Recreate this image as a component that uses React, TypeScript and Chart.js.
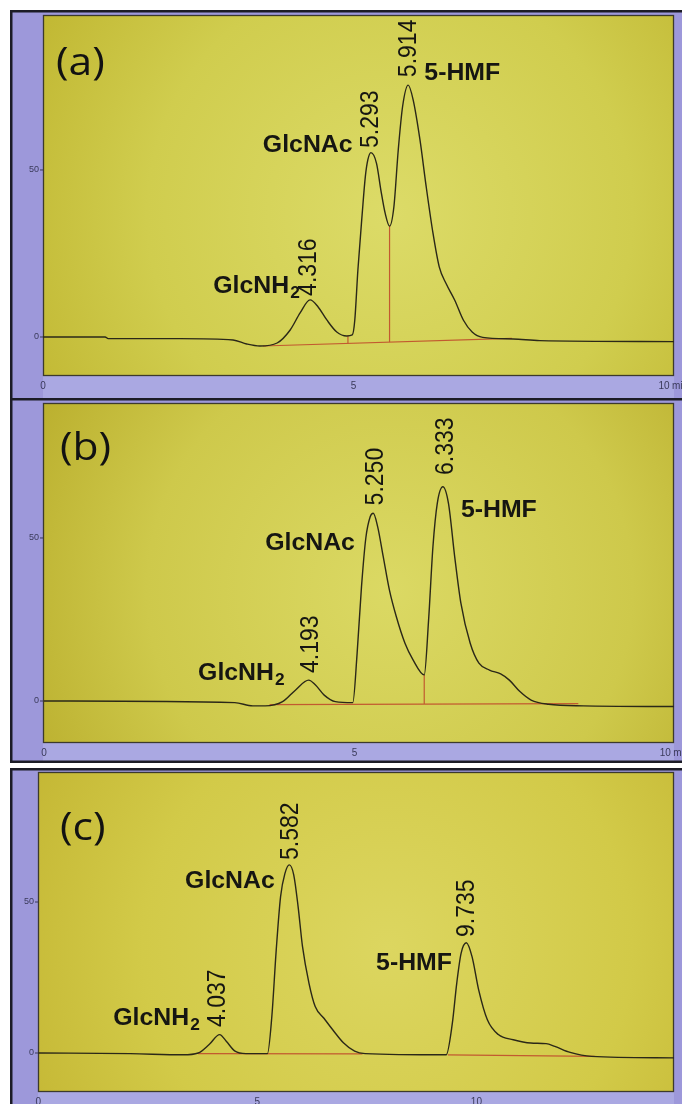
import React, { useEffect, useRef } from "react";
import { Chart, registerables } from "chart.js";

Chart.register(...registerables);

// ---------- DATA ----------
// Panel (a)
const timesA = [0, 1.0, 1.05, 2.2, 3.06, 3.28, 3.49, 3.77, 3.98, 4.14, 4.3, 4.43, 4.57, 4.73, 4.89, 4.98, 5.02, 5.07, 5.14, 5.19, 5.23, 5.28, 5.37, 5.44, 5.51, 5.58, 5.65, 5.72, 5.79, 5.88, 5.96, 6.07, 6.17, 6.28, 6.38, 6.49, 6.63, 6.77, 6.91, 7.08, 7.57, 8.0, 10.16];
const signalA = [0, 0, -0.5, -0.5, -0.9, -2.1, -2.7, -1.8, 2.1, 7.2, 11.1, 9.0, 5.1, 1.5, 0.3, 0.6, 5, 20, 37, 48, 53, 55.2, 52, 44, 37, 33.2, 39, 56, 69, 75.4, 71, 59, 45, 31, 21, 16, 11, 5, 1.5, -0.1, -0.6, -1.1, -1.4];
const baselineTimesA = [3.54, 7.55];
const baselineValuesA = [-2.7, -0.4];
const dropTimesA = [4.91, 5.58];
const dropTopsA = [0.3, 33.2];
const retentionA = ["4.316", "5.293", "5.914"];

// Panel (b)
const timesB = [0, 3.07, 3.36, 3.56, 3.84, 4.05, 4.26, 4.37, 4.51, 4.69, 4.97, 5.04, 5.11, 5.18, 5.25, 5.3, 5.37, 5.46, 5.56, 5.67, 5.81, 5.94, 6.12, 6.19, 6.26, 6.33, 6.42, 6.51, 6.61, 6.71, 6.86, 7.0, 7.17, 7.35, 7.49, 7.66, 7.84, 8.12, 8.68, 10.14];
const signalB = [0, -0.5, -1.5, -1.5, -0.2, 3.4, 6.4, 4.9, 1.8, -0.2, -0.5, 14.7, 35, 50, 56.5, 57.6, 53.5, 44.3, 34, 25.9, 17.7, 12.6, 8, 24.8, 47.3, 60.6, 65.7, 60.6, 44.3, 30, 17.7, 11.6, 9.5, 8.3, 6.4, 2.9, 0.3, -1, -1.5, -1.7];
const baselineTimesB = [3.63, 8.6];
const baselineValuesB = [-1.1, -0.8];
const dropTimesB = [6.12];
const dropTopsB = [8];
const retentionB = ["4.193", "5.250", "6.333"];

// Panel (c)
const timesC = [0, 2.1, 3.3, 3.65, 3.9, 4.14, 4.29, 4.49, 4.74, 5.23, 5.33, 5.43, 5.53, 5.63, 5.73, 5.83, 5.93, 6.03, 6.18, 6.32, 6.52, 6.72, 6.97, 7.22, 7.46, 9.31, 9.45, 9.55, 9.65, 9.77, 9.9, 10.05, 10.25, 10.5, 10.84, 11.24, 11.59, 11.79, 12.14, 12.63, 14.51];
const signalC = [0, -0.2, -0.6, 0, 2.8, 6.1, 3.9, 0.6, -0.2, -0.2, 12, 34, 51.8, 59.5, 62.3, 59, 48.5, 35.3, 23, 15.4, 11.5, 7.7, 3.3, 0.6, -0.2, -0.6, 9.8, 23, 33, 36.5, 31.9, 21, 11, 6.1, 4.4, 3.3, 3.1, 2.2, 0.2, -1.1, -1.6];
const baselineTimesC1 = [3.65, 7.4];
const baselineValuesC1 = [-0.2, -0.3];
const baselineTimesC2 = [9.35, 12.7];
const baselineValuesC2 = [-0.6, -1.1];
const retentionC = ["4.037", "5.582", "9.735"];

const compoundNames = ["GlcNH", "GlcNAc", "5-HMF"]; // first one gets subscript "2"
const yTickValues = [0, 50];
const xTicksAB = [0, 5, 10];
const xTicksC = [0, 5, 10];

// ---------- HELPERS ----------
type Pt = { x: number; y: number };
const zip = (xs: number[], ys: number[]): Pt[] => xs.map((x, i) => ({ x, y: ys[i] }));
const lerp = (xs: number[], ys: number[], t: number) =>
  ys[0] + ((t - xs[0]) * (ys[1] - ys[0])) / (xs[1] - xs[0]);

interface PanelSpec {
  letter: string;
  top: number;
  height: number;
  frameTop: number;
  frameBottom: number;
  padding: { left: number; top: number; right: number; bottom: number };
  xMin: number;
  xMax: number;
  yMin: number;
  yMax: number;
  curve: Pt[];
  red: Pt[][];
  retention: string[];
  retentionAt: [number, number][];
  compoundAt: [number, number][];
  xTicks: number[];
  xUnit: boolean;
  letterPos: [number, number];
  grad: [string, string, string];
}

const dropLines = (times: number[], tops: number[], bt: number[], bv: number[]): Pt[][] =>
  times.map((t, i) => [
    { x: t, y: lerp(bt, bv, t) },
    { x: t, y: tops[i] },
  ]);

const panels: PanelSpec[] = [
  {
    letter: "(a)",
    top: 0,
    height: 401,
    frameTop: 10,
    frameBottom: 401,
    padding: { left: 43, top: 15, right: 8, bottom: 25 },
    xMin: 0,
    xMax: 10.16,
    yMin: -11.68,
    yMax: 96.4,
    curve: zip(timesA, signalA),
    red: [zip(baselineTimesA, baselineValuesA), ...dropLines(dropTimesA, dropTopsA, baselineTimesA, baselineValuesA)],
    retention: retentionA,
    retentionAt: [[4.27, 12.3], [5.27, 56.6], [5.88, 77.8]],
    compoundAt: [[2.74, 13.2], [3.54, 55.4], [6.14, 77]],
    xTicks: xTicksAB,
    xUnit: true,
    letterPos: [56, 75],
    grad: ["#dcdb68", "#d0cd4e", "#bdb22c"],
  },
  {
    letter: "(b)",
    top: 398,
    height: 366,
    frameTop: 0,
    frameBottom: 365,
    padding: { left: 43, top: 5, right: 8, bottom: 21 },
    xMin: -0.016,
    xMax: 10.14,
    yMin: -12.88,
    yMax: 91.4,
    curve: zip(timesB, signalB),
    red: [zip(baselineTimesB, baselineValuesB), ...dropLines(dropTimesB, dropTopsB, baselineTimesB, baselineValuesB)],
    retention: retentionB,
    retentionAt: [[4.28, 8.6], [5.33, 60], [6.46, 69.3]],
    compoundAt: [[2.48, 6.4], [3.56, 46.3], [6.71, 56.4]],
    xTicks: xTicksAB,
    xUnit: true,
    letterPos: [60, 62],
    grad: ["#dbd964", "#cec94b", "#b5a826"],
  },
  {
    letter: "(c)",
    top: 767,
    height: 337,
    frameTop: 1,
    frameBottom: 360,
    padding: { left: 38, top: 5, right: 8, bottom: 12 },
    xMin: -0.007,
    xMax: 14.51,
    yMin: -12.91,
    yMax: 93.05,
    curve: zip(timesC, signalC),
    red: [zip(baselineTimesC1, baselineValuesC1), zip(baselineTimesC2, baselineValuesC2)],
    retention: retentionC,
    retentionAt: [[4.08, 8.6], [5.75, 63.9], [9.76, 38.4]],
    compoundAt: [[1.71, 9.3], [3.35, 54.6], [7.71, 27.5]],
    xTicks: xTicksC,
    xUnit: false,
    letterPos: [60, 73],
    grad: ["#dcd660", "#d2ca48", "#c0b12e"],
  },
];

const W = 682;

function makePlugin(spec: PanelSpec) {
  return {
    id: "hplcFrame",
    beforeDraw(chart: any) {
      const ctx: CanvasRenderingContext2D = chart.ctx;
      const { left, top, right, bottom } = chart.chartArea;
      ctx.save();
      // lavender instrument frame
      const fh = spec.frameBottom - spec.frameTop;
      ctx.fillStyle = "#9d98da";
      ctx.fillRect(10, spec.frameTop, W - 10, fh);
      ctx.fillStyle = "#aaa8e2";
      ctx.fillRect(left, bottom, right - left, spec.frameBottom - bottom);
      ctx.strokeStyle = "#1c1c26";
      ctx.lineWidth = 2.5;
      ctx.strokeRect(11.25, spec.frameTop + 1.25, W, fh - 2.5);
      // yellow plot area
      const cx = left + (right - left) * 0.55;
      const cy = top + (bottom - top) * 0.55;
      const g = ctx.createRadialGradient(cx, cy, 0, cx, cy, (right - left) * 0.7);
      g.addColorStop(0, spec.grad[0]);
      g.addColorStop(0.55, spec.grad[1]);
      g.addColorStop(1, spec.grad[2]);
      ctx.fillStyle = g;
      ctx.fillRect(left, top, right - left, bottom - top);
      ctx.strokeStyle = "#3c3a2c";
      ctx.lineWidth = 1.3;
      ctx.strokeRect(left + 0.5, top + 0.5, right - left - 1, bottom - top - 1);
      // y ticks
      const ys = chart.scales.y;
      const xs = chart.scales.x;
      ctx.fillStyle = "#3a3a5a";
      ctx.font = '9px "Liberation Sans", Arial, sans-serif';
      ctx.textAlign = "right";
      ctx.textBaseline = "middle";
      yTickValues.forEach((v) => {
        const py = ys.getPixelForValue(v);
        ctx.fillText(String(v), left - 4, py);
        ctx.beginPath();
        ctx.moveTo(left - 3, py);
        ctx.lineTo(left, py);
        ctx.strokeStyle = "#3a3a5a";
        ctx.lineWidth = 1;
        ctx.stroke();
      });
      // x ticks
      ctx.textAlign = "center";
      ctx.textBaseline = "top";
      ctx.font = '10px "Liberation Sans", Arial, sans-serif';
      spec.xTicks.forEach((t, i) => {
        const px = xs.getPixelForValue(t);
        ctx.fillText(String(t), px, bottom + 5);
        if (spec.xUnit && i === spec.xTicks.length - 1) {
          ctx.textAlign = "left";
          ctx.fillText("min", px + 8, bottom + 5);
          ctx.textAlign = "center";
        }
      });
      ctx.restore();
    },
    afterDatasetsDraw(chart: any) {
      const ctx: CanvasRenderingContext2D = chart.ctx;
      const xs = chart.scales.x;
      const ys = chart.scales.y;
      ctx.save();
      ctx.fillStyle = "#161612";
      // retention times, rotated
      ctx.font = '23px "Liberation Sans", Arial, sans-serif';
      ctx.textAlign = "left";
      ctx.textBaseline = "middle";
      spec.retention.forEach((txt, i) => {
        const [t, v] = spec.retentionAt[i];
        ctx.save();
        ctx.translate(xs.getPixelForValue(t), ys.getPixelForValue(v));
        ctx.rotate(-Math.PI / 2);
        ctx.scale(1, 1.1);
        ctx.fillText(txt, 0, 1);
        ctx.restore();
      });
      // compound names
      ctx.textBaseline = "alphabetic";
      compoundNames.forEach((name, i) => {
        const [t, v] = spec.compoundAt[i];
        ctx.save();
        ctx.translate(xs.getPixelForValue(t), ys.getPixelForValue(v));
        ctx.scale(1.08, 1);
        ctx.font = 'bold 23px "Liberation Sans", Arial, sans-serif';
        ctx.fillText(name, 0, 0);
        if (i === 0) {
          const w = ctx.measureText(name).width;
          ctx.font = 'bold 16px "Liberation Sans", Arial, sans-serif';
          ctx.fillText("2", w + 1, 5);
        }
        ctx.restore();
      });
      // panel letter
      ctx.save();
      ctx.translate(spec.letterPos[0], spec.letterPos[1]);
      ctx.scale(1.12, 1);
      ctx.font = '38px "Open Sans", "Noto Sans", sans-serif';
      ctx.fillStyle = "#121212";
      ctx.fillText(spec.letter, 0, 0);
      ctx.restore();
      ctx.restore();
    },
  };
}

function Panel({ spec }: { spec: PanelSpec }) {
  const ref = useRef<HTMLCanvasElement | null>(null);
  useEffect(() => {
    if (!ref.current) return;
    const datasets: any[] = [
      {
        data: spec.curve,
        borderColor: "#2b2818",
        borderWidth: 1.4,
        pointRadius: 0,
        cubicInterpolationMode: "monotone",
        fill: false,
        order: 1,
      },
      ...spec.red.map((seg) => ({
        data: seg,
        borderColor: "#c25a30",
        borderWidth: 1.2,
        pointRadius: 0,
        tension: 0,
        fill: false,
        order: 2,
      })),
    ];
    const chart = new Chart(ref.current, {
      type: "line",
      data: { datasets },
      options: {
        animation: false,
        responsive: false,
        devicePixelRatio: 1,
        parsing: false as any,
        layout: { padding: spec.padding },
        plugins: { legend: { display: false }, tooltip: { enabled: false }, title: { display: false } },
        scales: {
          x: { type: "linear", min: spec.xMin, max: spec.xMax, display: false },
          y: { type: "linear", min: spec.yMin, max: spec.yMax, display: false },
        },
        events: [],
      },
      plugins: [makePlugin(spec)],
    } as any);
    return () => chart.destroy();
  }, [spec]);
  return (
    <canvas
      ref={ref}
      width={W}
      height={spec.height}
      style={{ position: "absolute", left: 0, top: spec.top, width: W, height: spec.height }}
    />
  );
}

export default function App() {
  return (
    <div style={{ position: "absolute", left: 0, top: 0, width: W, height: 1104, overflow: "hidden", background: "#ffffff" }}>
      {panels.map((p) => (
        <Panel key={p.letter} spec={p} />
      ))}
    </div>
  );
}
